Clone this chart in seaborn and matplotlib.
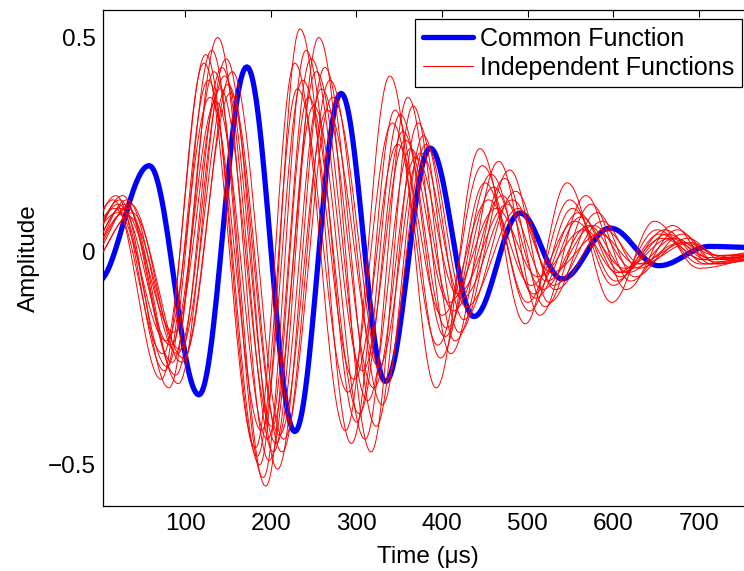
import numpy as np
import pandas as pd
import matplotlib
matplotlib.use("Agg")
import matplotlib.pyplot as plt
from matplotlib.lines import Line2D
import seaborn as sns

# ---------------- data (extrema) ----------------
common_t = [-3, 58, 116, 172, 228, 282, 334, 386, 437, 491, 540, 596, 653, 712, 775]
common_y = [-0.072, 0.200, -0.336, 0.431, -0.422, 0.369, -0.305, 0.241, -0.153,
            0.089, -0.065, 0.054, -0.034, 0.011, 0.008]

ind01_t = [-32, 16, 72, 122, 182, 228, 287, 339, 393, 444, 497, 546, 598, 648, 700, 775]
ind01_y = [-0.03, 0.12, -0.30, 0.44, -0.46, 0.44, -0.42, 0.41, -0.32, 0.24, -0.17, 0.16, -0.12, 0.07, -0.04, -0.015]
ind02_t = [-31, 18, 74, 124, 184, 231, 290, 342, 395, 447, 500, 549, 600, 651, 702, 775]
ind02_y = [-0.02, 0.10, -0.24, 0.46, -0.48, 0.38, -0.33, 0.30, -0.22, 0.20, -0.12, 0.12, -0.08, 0.05, -0.03, -0.01]
ind03_t = [-29, 19, 76, 127, 187, 234, 294, 345, 398, 450, 502, 552, 603, 654, 704, 775]
ind03_y = [-0.04, 0.13, -0.28, 0.40, -0.50, 0.52, -0.45, 0.33, -0.25, 0.16, -0.14, 0.10, -0.07, 0.04, -0.02, -0.005]
ind04_t = [-28, 21, 78, 129, 189, 237, 297, 348, 400, 454, 504, 555, 605, 657, 706, 775]
ind04_y = [-0.01, 0.09, -0.21, 0.36, -0.42, 0.40, -0.30, 0.25, -0.15, 0.12, -0.08, 0.07, -0.05, 0.03, -0.02, -0.01]
ind05_t = [-26, 22, 79, 131, 191, 241, 300, 351, 403, 457, 507, 559, 608, 660, 708, 775]
ind05_y = [-0.03, 0.11, -0.27, 0.47, -0.53, 0.47, -0.40, 0.32, -0.20, 0.18, -0.10, 0.09, -0.06, 0.05, -0.03, -0.015]
ind06_t = [-25, 24, 81, 134, 194, 244, 303, 354, 405, 460, 509, 562, 610, 663, 710, 775]
ind06_y = [-0.02, 0.12, -0.32, 0.42, -0.55, 0.36, -0.38, 0.28, -0.18, 0.15, -0.11, 0.08, -0.05, 0.04, -0.02, -0.01]
ind07_t = [-23, 25, 83, 136, 196, 247, 307, 357, 408, 463, 512, 565, 613, 666, 712, 775]
ind07_y = [-0.04, 0.10, -0.22, 0.35, -0.44, 0.45, -0.28, 0.26, -0.12, 0.10, -0.06, 0.05, -0.04, 0.03, -0.015, 0.0]
ind08_t = [-22, 27, 85, 138, 198, 250, 310, 360, 410, 466, 514, 568, 615, 669, 714, 775]
ind08_y = [-0.02, 0.13, -0.26, 0.50, -0.49, 0.34, -0.44, 0.36, -0.24, 0.21, -0.15, 0.13, -0.09, 0.06, -0.03, -0.02]
ind09_t = [-21, 29, 87, 141, 201, 253, 313, 363, 413, 470, 517, 571, 617, 672, 716, 775]
ind09_y = [-0.03, 0.09, -0.19, 0.38, -0.41, 0.42, -0.35, 0.24, -0.14, 0.13, -0.09, 0.06, -0.05, 0.03, -0.02, -0.01]
ind10_t = [-19, 30, 89, 143, 203, 256, 317, 366, 415, 473, 520, 574, 620, 675, 718, 775]
ind10_y = [-0.01, 0.11, -0.29, 0.43, -0.47, 0.50, -0.47, 0.34, -0.21, 0.17, -0.13, 0.11, -0.07, 0.05, -0.025, -0.015]
ind11_t = [-18, 32, 91, 146, 206, 259, 320, 369, 418, 476, 522, 577, 622, 678, 720, 775]
ind11_y = [-0.03, 0.12, -0.24, 0.41, -0.45, 0.38, -0.32, 0.22, -0.10, 0.11, -0.07, 0.06, -0.04, 0.02, -0.01, -0.005]
ind12_t = [-16, 33, 92, 148, 208, 263, 323, 372, 420, 479, 525, 581, 625, 681, 722, 775]
ind12_y = [-0.02, 0.10, -0.31, 0.45, -0.51, 0.43, -0.41, 0.30, -0.19, 0.19, -0.12, 0.09, -0.06, 0.04, -0.03, -0.015]
ind13_t = [-15, 35, 94, 150, 210, 266, 326, 375, 423, 482, 527, 584, 627, 684, 724, 775]
ind13_y = [-0.04, 0.08, -0.23, 0.39, -0.43, 0.33, -0.27, 0.23, -0.11, 0.12, -0.05, 0.04, -0.03, 0.02, -0.01, -0.01]
ind14_t = [-13, 36, 96, 153, 213, 269, 330, 378, 425, 486, 530, 587, 630, 687, 726, 775]
ind14_y = [-0.02, 0.11, -0.26, 0.37, -0.47, 0.40, -0.36, 0.27, -0.16, 0.14, -0.08, 0.07, -0.04, 0.03, -0.02, -0.012]
ind15_t = [-12, 38, 98, 155, 215, 272, 333, 381, 428, 489, 532, 590, 632, 690, 728, 775]
ind15_y = [-0.03, 0.09, -0.25, 0.42, -0.44, 0.36, -0.31, 0.25, -0.13, 0.10, -0.09, 0.05, -0.03, 0.02, -0.015, -0.01]

independent = [(ind01_t, ind01_y), (ind02_t, ind02_y), (ind03_t, ind03_y), (ind04_t, ind04_y),
               (ind05_t, ind05_y), (ind06_t, ind06_y), (ind07_t, ind07_y), (ind08_t, ind08_y),
               (ind09_t, ind09_y), (ind10_t, ind10_y), (ind11_t, ind11_y), (ind12_t, ind12_y),
               (ind13_t, ind13_y), (ind14_t, ind14_y), (ind15_t, ind15_y)]

x_ticks = [100, 200, 300, 400, 500, 600, 700]
y_ticks = [-0.5, 0, 0.5]
y_tick_labels = ["\u22120.5", "0", "0.5"]


def smooth_through(tk, yk, n=30):
    """Smooth line passing through the read extrema (half-cosine segments)."""
    ts, ys = [], []
    for i in range(len(tk) - 1):
        s = np.linspace(0, 1, n, endpoint=(i == len(tk) - 2))
        ts.append(tk[i] + s * (tk[i + 1] - tk[i]))
        ys.append(yk[i] + (yk[i + 1] - yk[i]) * (1 - np.cos(np.pi * s)) / 2)
    return np.concatenate(ts), np.concatenate(ys)


ct, cy = smooth_through(common_t, common_y)
df_common = pd.DataFrame({"Time": ct, "Amplitude": cy})

frames = []
for k, (tk, yk) in enumerate(independent):
    t, y = smooth_through(tk, yk)
    frames.append(pd.DataFrame({"Time": t, "Amplitude": y, "curve": k}))
df_ind = pd.concat(frames, ignore_index=True)

# ---------------- style ----------------
sns.set_theme(style="white")
plt.rcParams["font.family"] = ["Liberation Sans", "DejaVu Sans"]
plt.rcParams["axes.unicode_minus"] = True
plt.rcParams["text.color"] = "black"
plt.rcParams["axes.labelcolor"] = "black"

fig = plt.figure(figsize=(7.44, 5.71), dpi=100)
ax = fig.add_axes([103 / 744, 1 - 506 / 571, (753 - 103) / 744, (506 - 10) / 571])

sns.lineplot(data=df_common, x="Time", y="Amplitude", color="#0000ff", lw=3.8,
             sort=False, estimator=None, ax=ax, legend=False, zorder=2)
sns.lineplot(data=df_ind, x="Time", y="Amplitude", units="curve", estimator=None,
             color="#ff0000", lw=0.7, sort=False, ax=ax, legend=False, zorder=3)

ax.set_xlim(4, 763)
ax.set_ylim(-0.596, 0.564)
ax.set_xticks(x_ticks)
ax.set_yticks(y_ticks)
ax.set_yticklabels(y_tick_labels)

ax.tick_params(direction="in", length=5, width=0.8, top=True, right=True,
               labelsize=17.5, colors="black", pad=5)
for sp in ax.spines.values():
    sp.set_color("black")
    sp.set_linewidth(0.9)
    sp.set_visible(True)

ax.set_xlabel("Time (\u03bcs)", fontsize=17.5, labelpad=8, color="black")
ax.set_ylabel("Amplitude", fontsize=17.5, labelpad=6, color="black")

handles = [Line2D([], [], color="#0000ff", lw=3.8),
           Line2D([], [], color="#ff0000", lw=0.75)]
leg = fig.legend(handles, ["Common Function", "Independent Functions"],
                 loc="upper right", bbox_to_anchor=(742 / 744, 1 - 19 / 571),
                 bbox_transform=fig.transFigure, borderaxespad=0, fontsize=18,
                 handlelength=2.0, handletextpad=0.3, borderpad=0.3,
                 labelspacing=0.2, fancybox=False, framealpha=1, edgecolor="black")
leg.get_frame().set_linewidth(0.9)
for txt in leg.get_texts():
    txt.set_color("black")

fig.savefig("out.png", dpi=100)
